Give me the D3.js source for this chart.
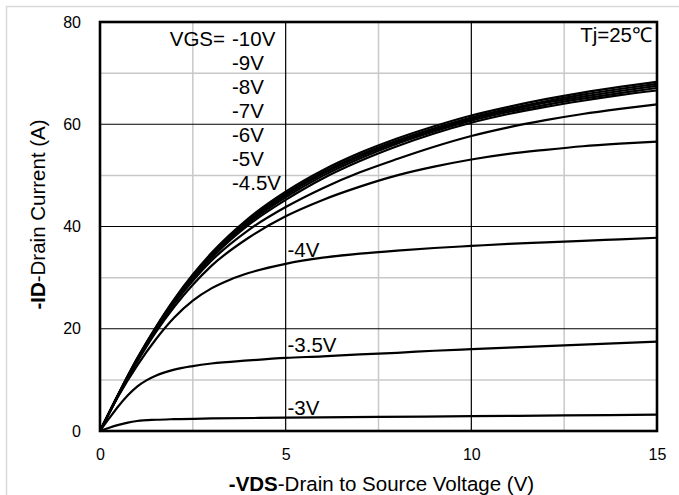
<!DOCTYPE html>
<html>
<head>
<meta charset="utf-8">
<script src="https://cdn.jsdelivr.net/npm/d3@7"></script>
<style>
  body { margin: 0; background: #fff; }
  text { font-family: "Liberation Sans", Arial, sans-serif; fill: #000; }
</style>
</head>
<body>
<svg id="chart" width="679" height="495"></svg>
<script>
// output characteristics, -VDS (V) vs -ID (A), one series per VGS
const vdsTicks = [0, 5, 10, 15];
const idTicks = [0, 20, 40, 60, 80];
const vdsMinor = [2.5, 7.5, 12.5];
const idMinor = [10, 30, 50, 70];

const vgs10 = [[0,0],[0.5,7.3],[1,14.2],[1.5,20.3],[2,25.8],[2.5,30.6],[3,34.8],[4,41.6],[5,46.8],[6,51],[7,54.4],[8,57.2],[9,59.6],[10,61.7],[11,63.4],[12,64.9],[13,66.2],[14,67.3],[15,68.3]];
const vgs9 = [[0,0],[0.5,7.3],[1,14.1],[1.5,20.2],[2,25.6],[2.5,30.4],[3,34.6],[4,41.3],[5,46.4],[6,50.6],[7,54],[8,56.8],[9,59.2],[10,61.3],[11,63],[12,64.5],[13,65.8],[14,66.9],[15,67.9]];
const vgs8 = [[0,0],[0.5,7.2],[1,14],[1.5,20.1],[2,25.5],[2.5,30.2],[3,34.3],[4,41],[5,46.1],[6,50.3],[7,53.7],[8,56.5],[9,58.9],[10,61],[11,62.7],[12,64.2],[13,65.4],[14,66.5],[15,67.5]];
const vgs7 = [[0,0],[0.5,7.2],[1,14],[1.5,20],[2,25.3],[2.5,30],[3,34.1],[4,40.7],[5,45.7],[6,49.9],[7,53.3],[8,56.2],[9,58.6],[10,60.7],[11,62.4],[12,63.8],[13,65],[14,66.1],[15,67.1]];
const vgs6 = [[0,0],[0.5,7.2],[1,13.9],[1.5,19.9],[2,25.1],[2.5,29.8],[3,33.8],[4,40.3],[5,45.2],[6,49.4],[7,52.8],[8,55.7],[9,58.2],[10,60.3],[11,62],[12,63.4],[13,64.6],[14,65.7],[15,66.6]];
const vgs5 = [[0,0],[0.5,7.1],[1,13.8],[1.5,19.7],[2,24.9],[2.5,29.4],[3,33.3],[4,39.3],[5,43.8],[6,47.5],[7,50.6],[8,53.2],[9,55.6],[10,57.7],[11,59.4],[12,60.8],[13,62],[14,63],[15,63.9]];
const vgs45 = [[0,0],[0.5,7],[1,13.5],[1.5,19.3],[2,24.3],[2.5,28.6],[3,32.3],[4,37.8],[5,42],[6,45.2],[7,47.8],[8,50],[9,51.7],[10,53.1],[11,54.2],[12,55],[13,55.7],[14,56.2],[15,56.6]];
const vgs4 = [[0,0],[0.5,6.9],[1,12.8],[1.5,17.9],[2,22.2],[2.5,25.5],[3,27.9],[3.5,29.6],[4,30.9],[5,32.7],[6,33.9],[7,34.7],[8,35.3],[9,35.8],[10,36.2],[11,36.6],[12,36.9],[13,37.2],[14,37.5],[15,37.8]];
const vgs35 = [[0,0],[0.25,2.5],[0.5,4.9],[0.75,7],[1,8.7],[1.25,9.9],[1.5,10.8],[2,12],[2.5,12.7],[3,13.2],[4,13.8],[5,14.3],[6,14.6],[7,15],[8,15.3],[9,15.7],[10,16],[11,16.3],[12,16.6],[13,16.9],[14,17.2],[15,17.5]];
const vgs3 = [[0,0],[0.25,0.65],[0.5,1.2],[0.75,1.65],[1,1.95],[1.5,2.2],[2,2.32],[3,2.45],[5,2.6],[7.5,2.75],[10,2.9],[12.5,3.05],[15,3.2]];

const seriesList = [vgs10, vgs9, vgs8, vgs7, vgs6, vgs5, vgs45, vgs4, vgs35, vgs3];

// curve labels: text, anchor point in data units (vds, id)
const stackLabels = ['-10V', '-9V', '-8V', '-7V', '-6V', '-5V', '-4.5V'];
const lowLabels = [['-4V', 5.05, 34.0], ['-3.5V', 5.05, 15.55], ['-3V', 5.05, 3.05]];

const width = 679, height = 495;
const margin = { top: 22, right: 22, bottom: 64, left: 100 };
const labelSize = '20.5px';

const svg = d3.select('#chart');

// light frame around the whole figure
svg.append('rect')
  .attr('x', 6.5).attr('y', 6.5)
  .attr('width', width).attr('height', height)
  .attr('fill', 'none')
  .attr('stroke', '#d9d9d9')
  .attr('stroke-width', 1.5);

const x = d3.scaleLinear().domain([0, 15]).range([margin.left, width - margin.right]);
const y = d3.scaleLinear().domain([0, 80]).range([height - margin.bottom, margin.top]);

const grid = svg.append('g').attr('id', 'grid');

grid.selectAll('line.vminor')
  .data(vdsMinor)
  .join('line')
  .attr('class', 'vminor')
  .attr('x1', d => x(d)).attr('x2', d => x(d))
  .attr('y1', y(0)).attr('y2', y(80))
  .attr('stroke', '#c8c8c8').attr('stroke-width', 1.5);

grid.selectAll('line.hminor')
  .data(idMinor)
  .join('line')
  .attr('class', 'hminor')
  .attr('x1', x(0)).attr('x2', x(15))
  .attr('y1', d => y(d)).attr('y2', d => y(d))
  .attr('stroke', '#c8c8c8').attr('stroke-width', 1.5);

grid.selectAll('line.vmajor')
  .data(vdsTicks.slice(1, -1))
  .join('line')
  .attr('class', 'vmajor')
  .attr('x1', d => x(d)).attr('x2', d => x(d))
  .attr('y1', y(0)).attr('y2', y(80))
  .attr('stroke', '#000').attr('stroke-width', 1.2);

grid.selectAll('line.hmajor')
  .data(idTicks.slice(1, -1))
  .join('line')
  .attr('class', 'hmajor')
  .attr('x1', x(0)).attr('x2', x(15))
  .attr('y1', d => y(d)).attr('y2', d => y(d))
  .attr('stroke', '#000').attr('stroke-width', 1.2);

const line = d3.line()
  .x(d => x(d[0]))
  .y(d => y(d[1]))
  .curve(d3.curveMonotoneX);

svg.append('g')
  .attr('id', 'curves')
  .selectAll('path')
  .data(seriesList)
  .join('path')
  .attr('d', line)
  .attr('fill', 'none')
  .attr('stroke', '#000')
  .attr('stroke-width', 2.2);

// plot frame
svg.append('rect')
  .attr('x', x(0)).attr('y', y(80))
  .attr('width', x(15) - x(0)).attr('height', y(0) - y(80))
  .attr('fill', 'none')
  .attr('stroke', '#000')
  .attr('stroke-width', 2.6);

// axes (labels only)
const xAxis = svg.append('g')
  .attr('transform', `translate(0,${y(0)})`)
  .call(d3.axisBottom(x).tickValues(vdsTicks).tickSize(0).tickPadding(18));
const yAxis = svg.append('g')
  .attr('transform', `translate(${x(0)},0)`)
  .call(d3.axisLeft(y).tickValues(idTicks).tickSize(0).tickPadding(19));
[xAxis, yAxis].forEach(a => {
  a.select('.domain').remove();
  a.selectAll('text')
    .style('font-family', '"Liberation Sans", Arial, sans-serif')
    .style('font-size', '16px')
    .attr('fill', '#000');
});

// axis titles
const xt = svg.append('text')
  .attr('x', (x(0) + x(15)) / 2 + 3)
  .attr('y', 490.5)
  .attr('text-anchor', 'middle')
  .style('font-size', labelSize);
xt.append('tspan').attr('font-weight', 'bold').text('-VDS');
xt.append('tspan').text('-Drain to Source Voltage (V)');

const yt = svg.append('text')
  .attr('transform', 'translate(45,214.5) rotate(-90)')
  .attr('text-anchor', 'middle')
  .style('font-size', labelSize);
yt.append('tspan').attr('font-weight', 'bold').text('-ID');
yt.append('tspan').text('-Drain Current (A)');

// curve labels
const labelX = 232;
const labelBase = 45.5;
const labelStep = 24.15;

svg.append('text')
  .attr('x', labelX - 7)
  .attr('y', labelBase)
  .attr('text-anchor', 'end')
  .style('font-size', labelSize)
  .text('VGS=');

svg.append('g')
  .selectAll('text')
  .data(stackLabels)
  .join('text')
  .attr('x', labelX)
  .attr('y', (d, i) => labelBase + i * labelStep)
  .style('font-size', labelSize)
  .text(d => d);

svg.append('g')
  .selectAll('text')
  .data(lowLabels)
  .join('text')
  .attr('x', d => x(d[1]))
  .attr('y', d => y(d[2]))
  .style('font-size', labelSize)
  .text(d => d[0]);

svg.append('text')
  .attr('x', x(15) - 5)
  .attr('y', 41.5)
  .attr('text-anchor', 'end')
  .style('font-size', labelSize)
  .text('Tj=25℃');
</script>
</body>
</html>
